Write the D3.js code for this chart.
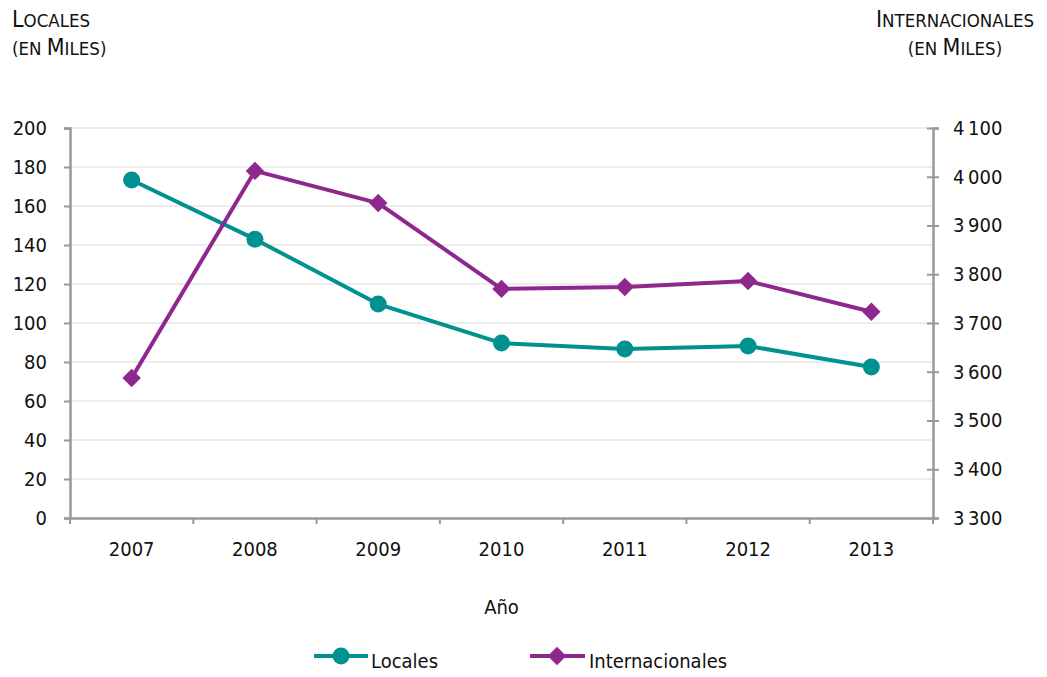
<!DOCTYPE html>
<html><head><meta charset="utf-8">
<script src="https://cdn.jsdelivr.net/npm/d3@7"></script>
<style>
body{margin:0;background:#fff;}
text{font-family:"Liberation Sans Narrow","DejaVu Sans Condensed",sans-serif;fill:#111;}
</style></head><body>
<svg id="c" width="1047" height="677"></svg>
<script>
const years = ["2007","2008","2009","2010","2011","2012","2013"];
const locales = [173.3, 143, 109.7, 89.7, 86.7, 88.2, 77.4];
const internacionales = [3587, 4012, 3946, 3770, 3774, 3786, 3723];
const leftTicks = [0,20,40,60,80,100,120,140,160,180,200];
const rightTicks = [3300,3400,3500,3600,3700,3800,3900,4000,4100];

const svg = d3.select("#c");
const L=70, R=933, T=128, B=518;
const x = d3.scaleBand().domain(years).range([L,R]);
const yL = d3.scaleLinear().domain([0,200]).range([B,T]);
const yR = d3.scaleLinear().domain([3300,4100]).range([B,T]);
const axisCol="#999";
const fs=20;
const ff='"Liberation Sans Narrow","DejaVu Sans Condensed",sans-serif';

// grid
svg.append("g").selectAll("line").data(leftTicks.filter(d=>d>0)).join("line")
  .attr("x1",L).attr("x2",R).attr("y1",d=>yL(d)).attr("y2",d=>yL(d))
  .attr("stroke","#d9d9d9").attr("stroke-width",1);

// left axis
const gl = svg.append("g").attr("transform",`translate(${L},0)`)
  .call(d3.axisLeft(yL).tickValues(leftTicks).tickSize(6).tickPadding(17));
gl.select(".domain").attr("stroke",axisCol).attr("stroke-width",2.5);
gl.selectAll(".tick line").attr("stroke",axisCol).attr("stroke-width",2);
gl.selectAll("text").attr("font-size",fs).attr("fill","#111").style("font-family",ff);

// right axis
const gr = svg.append("g").attr("transform",`translate(${R},0)`)
  .call(d3.axisRight(yR).tickValues(rightTicks).tickSize(6).tickPadding(14)
    .tickFormat(d=>d3.format(",")(d).replace(",", "\u2009")));
gr.select(".domain").attr("stroke",axisCol).attr("stroke-width",2.5);
gr.selectAll(".tick line").attr("x1",-6).attr("stroke",axisCol).attr("stroke-width",2);
gr.selectAll("text").attr("font-size",fs).attr("fill","#111").style("font-family",ff);

// bottom axis
const gb = svg.append("g").attr("transform",`translate(0,${B})`)
  .call(d3.axisBottom(x).tickSize(0).tickPadding(24));
gb.select(".domain").attr("stroke",axisCol).attr("stroke-width",2.5);
gb.selectAll("text").attr("font-size",fs).attr("fill","#111").style("font-family",ff);
const bounds = years.map(d=>x(d)).concat([x(years[years.length-1])+x.bandwidth()]);
svg.append("g").selectAll("line").data(bounds).join("line")
  .attr("x1",d=>d).attr("x2",d=>d).attr("y1",B).attr("y2",B+6)
  .attr("stroke",axisCol).attr("stroke-width",2);

const cx = d=>x(d)+x.bandwidth()/2;
const teal="#009191", purple="#8e288e";
const diamond = d3.symbol().type(d3.symbolSquare).size(170)();

// locales line
svg.append("path").datum(locales)
  .attr("d",d3.line().x((d,i)=>cx(years[i])).y(d=>yL(d)))
  .attr("fill","none").attr("stroke",teal).attr("stroke-width",4).attr("stroke-linejoin","round");
svg.append("g").selectAll("circle").data(locales).join("circle")
  .attr("cx",(d,i)=>cx(years[i])).attr("cy",d=>yL(d)).attr("r",8.5).attr("fill",teal);

// internacionales line
svg.append("path").datum(internacionales)
  .attr("d",d3.line().x((d,i)=>cx(years[i])).y(d=>yR(d)))
  .attr("fill","none").attr("stroke",purple).attr("stroke-width",4).attr("stroke-linejoin","round");
svg.append("g").selectAll("path").data(internacionales).join("path")
  .attr("transform",(d,i)=>`translate(${cx(years[i])},${yR(d)}) rotate(45)`)
  .attr("d",diamond).attr("fill",purple);

// titles (small caps drawn manually)
function sc(sel, word, big, small){
  sel.append("tspan").attr("font-size",big).text(word[0]);
  sel.append("tspan").attr("font-size",small).text(word.slice(1).toUpperCase());
}
function scLine(parent, x, y, anchor, parts){
  const t = parent.append("text").attr("x",x).attr("y",y).attr("text-anchor",anchor).style("font-family",ff);
  parts.forEach(p=>{
    if(p.big) sc(t,p.s,23,18.5); else t.append("tspan").attr("font-size",18.5).text(p.s.toUpperCase());
  });
}
scLine(svg,12,27,"start",[{s:"Locales",big:true}]);
scLine(svg,12,55,"start",[{s:"(en "},{s:"Miles",big:true},{s:")"}]);
scLine(svg,955,27,"middle",[{s:"Internacionales",big:true}]);
scLine(svg,955,55,"middle",[{s:"(en "},{s:"Miles",big:true},{s:")"}]);

svg.append("text").attr("x",(L+R)/2).attr("y",614).attr("text-anchor","middle").attr("font-size",fs).text("Año");

// legend
const lg = svg.append("g");
lg.append("line").attr("x1",314).attr("x2",368).attr("y1",656).attr("y2",656).attr("stroke",teal).attr("stroke-width",4);
lg.append("circle").attr("cx",341).attr("cy",656).attr("r",8.5).attr("fill",teal);
lg.append("text").attr("x",371).attr("y",668).attr("font-size",fs).text("Locales");
lg.append("line").attr("x1",530).attr("x2",585).attr("y1",656).attr("y2",656).attr("stroke",purple).attr("stroke-width",4);
lg.append("path").attr("transform","translate(557,656) rotate(45)").attr("d",diamond).attr("fill",purple);
lg.append("text").attr("x",589).attr("y",668).attr("font-size",fs).text("Internacionales");
</script></body></html>
